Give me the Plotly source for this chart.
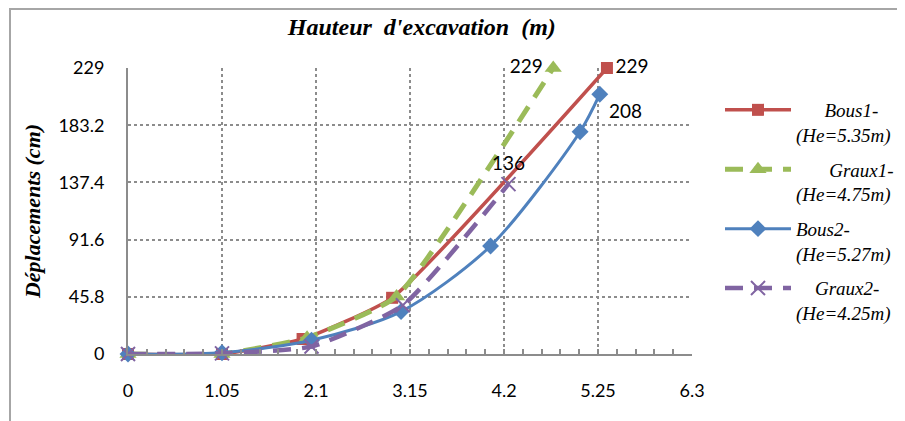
import plotly.graph_objects as go

# ---- data ----
bous1_x = [0, 1.05, 1.95, 2.95, 5.35]
bous1_y = [0, 0, 12, 45, 229]
graux1_x = [0, 1.05, 2.0, 3.0, 4.75]
graux1_y = [0, 0, 13, 46, 229]
bous2_x = [0, 1.05, 2.05, 3.05, 4.05, 5.05, 5.27]
bous2_y = [0, 1, 11, 34, 86.5, 178, 208]
graux2_x = [0, 1.05, 2.05, 3.07, 4.25]
graux2_y = [0, 0.5, 6, 39, 136]

x_ticks = [0, 1.05, 2.1, 3.15, 4.2, 5.25, 6.3]
x_ticktext = ["0", "1.05", "2.1", "3.15", "4.2", "5.25", "6.3"]
y_ticks = [0, 45.8, 91.6, 137.4, 183.2, 229]
y_ticktext = ["0", "45.8", "91.6", "137.4", "183.2", "229"]

names = [
    "\u00a0" * 6 + "Bous1-<br>(He=5.35m)",
    "\u00a0" * 7 + "Graux1-<br>(He=4.75m)",
    "Bous2-<br>(He=5.27m)",
    "\u00a0" * 4 + "Graux2-<br>(He=4.25m)",
]

RED, GREEN, BLUE, PURPLE = "#C0504D", "#9BBB59", "#4F81BD", "#8064A2"
GRID = "#8c8c8c"
SERIF = "Times New Roman, Liberation Serif, serif"
LABEL_FONT = dict(family="Lato", size=19, color="black")

W, H = 897, 413          # page has an 8px body margin
L, T = 120, 60
PW, PH = 564, 286


def last_label(xs, ys):
    return [""] * (len(xs) - 1) + ["%g" % ys[-1]]


fig = go.Figure()

fig.add_trace(go.Scatter(
    x=bous1_x, y=bous1_y, name=names[0], legendgroup="a",
    mode="lines+markers+text", text=last_label(bous1_x, bous1_y),
    textposition="middle right", textfont=LABEL_FONT,
    line=dict(color=RED, width=3.5, shape="spline", smoothing=0.45),
    marker=dict(symbol="square", size=12, color=RED),
    cliponaxis=False,
))
fig.add_trace(go.Scatter(
    x=graux1_x, y=graux1_y, name=names[1], legendgroup="b",
    mode="lines+markers+text", text=last_label(graux1_x, graux1_y),
    textposition="middle left", textfont=LABEL_FONT,
    line=dict(color=GREEN, width=5, shape="spline", smoothing=0.45, dash="18px,11px"),
    marker=dict(symbol="triangle-up", size=15, color=GREEN),
    cliponaxis=False,
))
fig.add_trace(go.Scatter(
    x=bous2_x, y=bous2_y, name=names[2], legendgroup="c",
    mode="lines+markers+text", text=last_label(bous2_x, bous2_y),
    textposition="bottom right", textfont=LABEL_FONT,
    line=dict(color=BLUE, width=3, shape="spline", smoothing=0.8),
    marker=dict(symbol="diamond", size=13, color=BLUE),
    cliponaxis=False,
))
fig.add_trace(go.Scatter(
    x=graux2_x, y=graux2_y, name=names[3], legendgroup="d",
    mode="lines+markers+text", text=last_label(graux2_x, graux2_y),
    textposition="top center", textfont=LABEL_FONT,
    line=dict(color=PURPLE, width=4.5, shape="spline", smoothing=0.5, dash="18px,11px"),
    marker=dict(symbol="x-thin", size=14, line=dict(color=PURPLE, width=2)),
    cliponaxis=False,
))

fig.update_layout(
    width=W, height=H,
    margin=dict(l=L, r=W - L - PW, t=T, b=H - T - PH, autoexpand=False),
    paper_bgcolor="white", plot_bgcolor="white",
    font=dict(family="Lato", size=18, color="black"),
    title=dict(
        text="Hauteur\u00a0\u00a0d'excavation\u00a0\u00a0(m)",
        font=dict(family=SERIF, size=24, weight="bold", style="italic", color="black"),
        x=0.521, xanchor="center", xref="paper",
        y=1 - 19 / H, yanchor="middle", yref="container",
    ),
    legend=dict(
        xref="container", yref="container",
        x=712 / W, xanchor="left", y=1 - 83 / H, yanchor="top",
        font=dict(family=SERIF, size=19, style="italic", color="black"),
        itemwidth=66, valign="top", tracegroupgap=7,
        maxheight=380,
        bgcolor="rgba(0,0,0,0)",
    ),
    shapes=[dict(
        type="rect", xref="paper", yref="paper",
        x0=(2 - L) / PW, x1=2.0, y0=-1.0, y1=(T + PH - 1) / PH,
        line=dict(color="#a6a6a6", width=2), layer="below",
    )],
)

fig.update_xaxes(
    range=[0, 6.3], tickvals=x_ticks, ticktext=x_ticktext,
    showline=True, linecolor=GRID, linewidth=2, zeroline=False,
    showgrid=True, gridcolor=GRID, gridwidth=1.5, griddash="dot",
    ticks="inside", ticklen=5, tickcolor=GRID, tickwidth=1.5,
    minor=dict(dtick=0.21, tick0=0, ticks="inside", ticklen=5, tickcolor=GRID, tickwidth=1.5, showgrid=False),
    ticklabelstandoff=19,
    tickfont=dict(family="Lato", size=18, color="black"),
)
fig.update_yaxes(
    range=[0, 229], tickvals=y_ticks, ticktext=y_ticktext,
    showline=True, linecolor=GRID, linewidth=2, zeroline=False,
    showgrid=True, gridcolor=GRID, gridwidth=1.5, griddash="dot",
    ticks="", ticklabelstandoff=18,
    tickfont=dict(family="Lato", size=18, color="black"),
    title=dict(
        text="Déplacements (cm)", standoff=12,
        font=dict(family=SERIF, size=22, weight="bold", style="italic", color="black"),
    ),
)

fig.write_html("out.html")
